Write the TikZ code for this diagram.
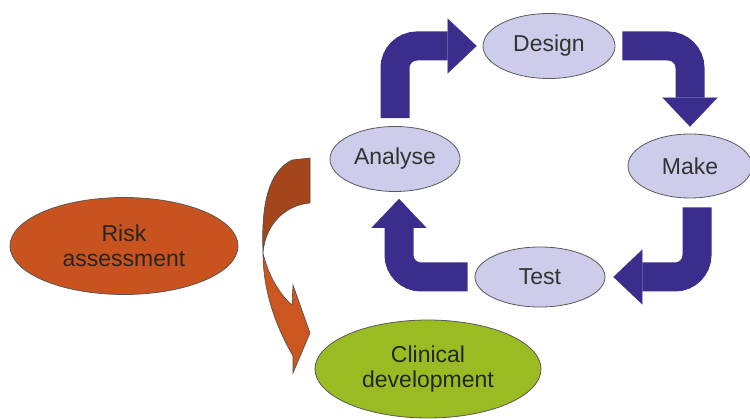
\documentclass[tikz,border=0pt]{standalone}
\usepackage{fontspec}
\setmainfont{Liberation Sans}
\usetikzlibrary{arrows.meta,shapes.geometric}
\definecolor{lav}{HTML}{CDCDEB}
\definecolor{cycblue}{HTML}{3A2D8B}
\definecolor{riskfill}{HTML}{C8531F}
\definecolor{clinfill}{HTML}{9ABB22}
\definecolor{ribbondark}{HTML}{A5451B}
\definecolor{ribbonlight}{HTML}{CC5620}
\begin{document}
\begin{tikzpicture}[x=1pt,y=-1pt,
  blob/.style={ellipse, draw=black!65, line width=0.8pt, inner sep=0pt,
    align=center, font=\fontsize{23}{25}\selectfont},
  stage/.style={blob, fill=lav, text=black!80},
  cyc/.style={draw=cycblue, line width=29pt, rounded corners=22pt,
    -{Triangle[length=29pt,width=55pt,line width=0.1pt]}},
  ribbonedge/.style={draw=black!70, line width=0.6pt}]
\useasboundingbox (0,0) rectangle (750,419);

% design cycle
\node[stage, minimum width=132pt, minimum height=65pt] (design)  at (549,46)  {Design};
\node[stage, minimum width=124pt, minimum height=64pt] (make)    at (690,166) {Make};
\node[stage, minimum width=130pt, minimum height=60pt] (test)    at (540,277) {Test};
\node[stage, minimum width=130pt, minimum height=65pt] (analyse) at (395,159) {Analyse};

% outer stages
\node[blob, fill=riskfill, text=black!85, minimum width=228pt, minimum height=97pt]
  (risk) at (124,246) {Risk\\assessment};
\node[blob, fill=clinfill, text=black!85, minimum width=226pt, minimum height=98pt]
  (clin) at (428,369) {Clinical\\development};

% cycle arrows
\draw[cyc] ([yshift=8pt]analyse.north) |- ([xshift=-6pt]design.west);
\draw[cyc] ([xshift=7pt]design.east) -| ([yshift=7pt]make.north);
\draw[cyc] ([xshift=7pt,yshift=-9pt]make.south) |- ([xshift=8pt]test.east);
\draw[cyc] ([xshift=-7pt]test.west) -| ([xshift=4pt,yshift=-7pt]analyse.south);

% curved ribbon arrow: back face (upper) and front face with head (lower)
\fill[ribbondark] (310,158) -- (310,203)
  .. controls (285,205) and (265,225) .. (263,253)
  .. controls (261,205) and (268,172) .. (292,160) -- cycle;
\fill[ribbonlight] (263,253)
  .. controls (268,275) and (280,295) .. (292,305)
  -- (293,285) -- (310,333) -- (293,373) -- (293,356)
  .. controls (275,325) and (263,290) .. (263,253) -- cycle;
\draw[ribbonedge] (310,158) -- (310,203)
  .. controls (285,205) and (265,225) .. (263,253)
  .. controls (261,205) and (268,172) .. (292,160) -- cycle;
\draw[ribbonedge, line join=miter] (263,253)
  .. controls (268,275) and (280,295) .. (292,305)
  -- (293,285) -- (310,333) -- (293,373) -- (293,356)
  .. controls (275,325) and (263,290) .. (263,253);
\end{tikzpicture}
\end{document}
